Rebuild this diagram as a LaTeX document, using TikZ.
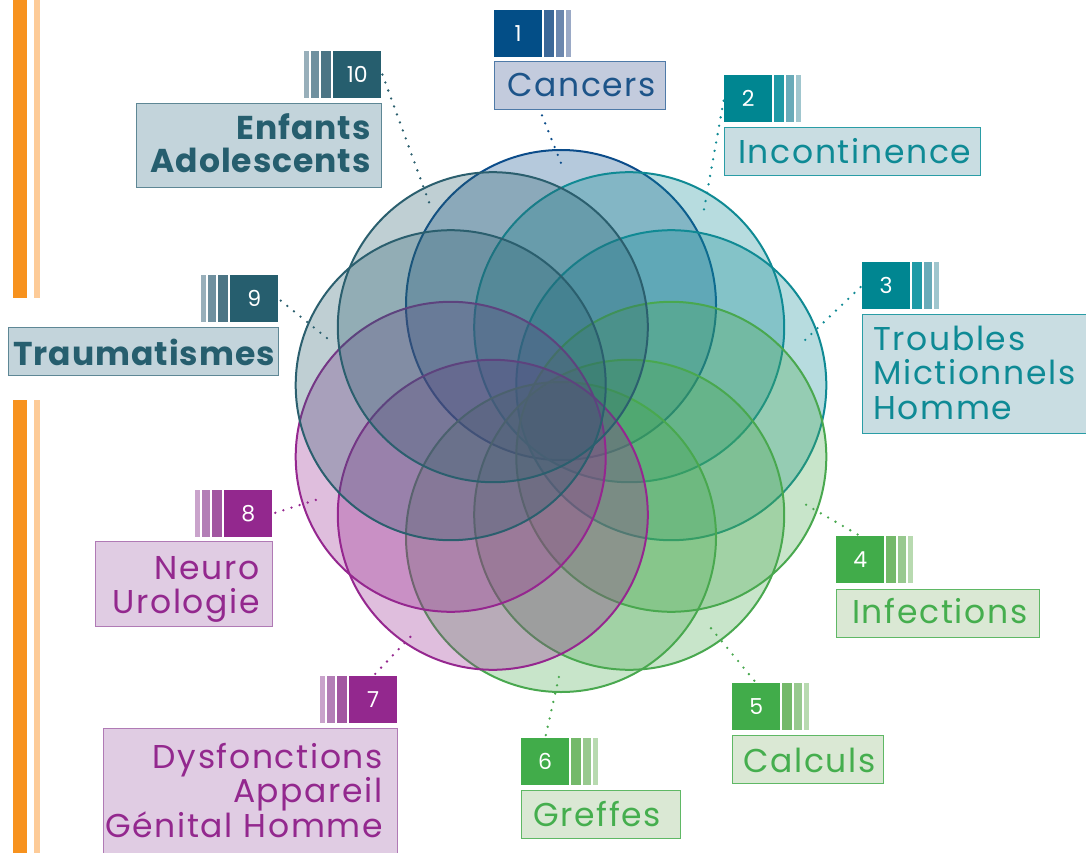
\documentclass[tikz,border=0pt]{standalone}
\usepackage{fontspec}
\setmainfont{Poppins}
\definecolor{orA}{HTML}{F7921E}
\definecolor{orB}{HTML}{FDCB98}
% group colours
\definecolor{blueD}{HTML}{034E87}
\definecolor{blueS}{HTML}{0B4C8A}
\definecolor{blueB1}{HTML}{3C6898}
\definecolor{blueB2}{HTML}{6C87AE}
\definecolor{blueB3}{HTML}{9AA9C6}
\definecolor{blueF}{HTML}{C3CBDD}
\definecolor{blueL}{HTML}{4F7AA8}
\definecolor{blueT}{HTML}{1D5489}
\definecolor{tealD}{HTML}{008691}
\definecolor{tealS}{HTML}{108A94}
\definecolor{tealB1}{HTML}{1F9AA6}
\definecolor{tealB2}{HTML}{6AABB9}
\definecolor{tealB3}{HTML}{A0C6CE}
\definecolor{tealF}{HTML}{C9DDE2}
\definecolor{tealL}{HTML}{2A9DA6}
\definecolor{tealT}{HTML}{0E8A95}
\definecolor{grnD}{HTML}{41AC4A}
\definecolor{grnS}{HTML}{49A84F}
\definecolor{grnB1}{HTML}{74B96A}
\definecolor{grnB2}{HTML}{98C98F}
\definecolor{grnB3}{HTML}{B8DAB0}
\definecolor{grnF}{HTML}{DAE8D4}
\definecolor{grnL}{HTML}{5FB865}
\definecolor{grnT}{HTML}{45AE4E}
\definecolor{purD}{HTML}{93288E}
\definecolor{purS}{HTML}{95278F}
\definecolor{purB1}{HTML}{A257A1}
\definecolor{purB2}{HTML}{B37EB6}
\definecolor{purB3}{HTML}{C9A3CB}
\definecolor{purF}{HTML}{E0CCE3}
\definecolor{purL}{HTML}{B07AB5}
\definecolor{purT}{HTML}{93288E}
\definecolor{slD}{HTML}{265E6E}
\definecolor{slS}{HTML}{2B5F6E}
\definecolor{slB1}{HTML}{4C7585}
\definecolor{slB2}{HTML}{6F909F}
\definecolor{slB3}{HTML}{98AFBA}
\definecolor{slF}{HTML}{C3D4DB}
\definecolor{slL}{HTML}{5E8795}
\definecolor{slT}{HTML}{265E6E}
\newcommand\barsright[4]{%
  \fill[#2] ([xshift=2pt]#1.north east) rectangle ([xshift=12pt]#1.south east);
  \fill[#3] ([xshift=14pt]#1.north east) rectangle ([xshift=22pt]#1.south east);
  \fill[#4] ([xshift=24pt]#1.north east) rectangle ([xshift=29pt]#1.south east);}
\newcommand\barsleft[4]{%
  \fill[#2] ([xshift=-12pt]#1.north west) rectangle ([xshift=-2pt]#1.south west);
  \fill[#3] ([xshift=-22pt]#1.north west) rectangle ([xshift=-14pt]#1.south west);
  \fill[#4] ([xshift=-29pt]#1.north west) rectangle ([xshift=-24pt]#1.south west);}
\begin{document}
\begin{tikzpicture}[x=1pt,y=-1pt,
  circ/.style={circle, minimum size=310pt, inner sep=0pt, draw=#1, fill=#1, fill opacity=0.3, line width=2pt},
  numbox/.style={fill=#1, minimum width=48pt, minimum height=47pt, inner sep=0pt, anchor=north west, text=white, font=\fontsize{22}{22}\selectfont},
  labbox/.style={draw=#1, line width=1.4pt, inner sep=0pt, anchor=north west},
  labtext/.style={inner sep=0pt, text=#1, font=\fontsize{33}{34.5}\selectfont\addfontfeature{LetterSpace=5}},
  boldtext/.style={inner sep=0pt, text=#1, font=\fontsize{33}{33}\selectfont\bfseries\addfontfeature{LetterSpace=3}},
  dotline/.style={draw=#1, dash pattern=on 0pt off 8.5pt, line cap=round, line width=2.6pt}
]
\useasboundingbox (0,0) rectangle (1086,853);
% orange side bars
\fill[orA] (13,0) rectangle (27,298);
\fill[orB] (34,0) rectangle (40,298);
\fill[orA] (13,400) rectangle (27,853);
\fill[orB] (34,400) rectangle (40,853);
% circles
\node[circ=blueS] (c1) at (561,305) {};
\node[circ=tealS] (c2) at (629.2,327.2) {};
\node[circ=tealS] (c3) at (671.3,385.2) {};
\node[circ=grnS] (c4) at (671.3,456.8) {};
\node[circ=grnS] (c5) at (629.2,514.8) {};
\node[circ=grnS] (c6) at (561,537) {};
\node[circ=purS] (c7) at (492.8,514.8) {};
\node[circ=purS] (c8) at (450.7,456.8) {};
\node[circ=slS] (c9) at (450.7,385.2) {};
\node[circ=slS] (c10) at (492.8,327.2) {};
% number boxes
\node[numbox=blueD] (n1) at (494,10) {1};
\node[numbox=tealD] (n2) at (724,75) {2};
\node[numbox=tealD] (n3) at (862,262) {3};
\node[numbox=grnD] (n4) at (836,536) {4};
\node[numbox=grnD] (n5) at (732,683) {5};
\node[numbox=grnD] (n6) at (521,738) {6};
\node[numbox=purD] (n7) at (349,676) {7};
\node[numbox=purD] (n8) at (224,490) {8};
\node[numbox=slD] (n9) at (230,275) {9};
\node[numbox=slD] (n10) at (333,51) {10};
\barsright{n1}{blueB1}{blueB2}{blueB3}
\barsright{n2}{tealB1}{tealB2}{tealB3}
\barsright{n3}{tealB1}{tealB2}{tealB3}
\barsright{n4}{grnB1}{grnB2}{grnB3}
\barsright{n5}{grnB1}{grnB2}{grnB3}
\barsright{n6}{grnB1}{grnB2}{grnB3}
\barsleft{n7}{purB1}{purB2}{purB3}
\barsleft{n8}{purB1}{purB2}{purB3}
\barsleft{n9}{slB1}{slB2}{slB3}
\barsleft{n10}{slB1}{slB2}{slB3}
% label boxes
\node[labbox=blueL, fill=blueF, minimum width=171pt, minimum height=48pt] (l1) at (494,61) {};
\node[labbox=tealL, fill=tealF, minimum width=256pt, minimum height=48pt] (l2) at (724,127) {};
\node[labbox=tealL, fill=tealF, minimum width=236pt, minimum height=119pt] (l3) at (862,314) {};
\node[labbox=grnL, fill=grnF, minimum width=203pt, minimum height=48pt] (l4) at (836,589) {};
\node[labbox=grnL, fill=grnF, minimum width=151pt, minimum height=48pt] (l5) at (732,735) {};
\node[labbox=grnL, fill=grnF, minimum width=159pt, minimum height=48pt] (l6) at (521,790) {};
\node[labbox=purL, fill=purF, minimum width=294pt, minimum height=140pt] (l7) at (103,728) {};
\node[labbox=purL, fill=purF, minimum width=177pt, minimum height=85pt] (l8) at (95,541) {};
\node[labbox=slL, fill=slF, minimum width=270pt, minimum height=48pt] (l9) at (8,327) {};
\node[labbox=slL, fill=slF, minimum width=245pt, minimum height=84pt] (l10) at (136,103) {};
% label texts
\node[labtext=blueT, anchor=base west] (t1) at (507,97) {Cancers};
\node[labtext=tealT, anchor=base west] (t2) at (738,164) {Incontinence};
\node[labtext=tealT, anchor=base west, text width=212pt, align=left] (t3) at (873,350) {Troubles\\Mictionnels\\Homme};
\node[labtext=grnT, anchor=base west] (t4) at (852,623) {Infections};
\node[labtext=grnT, anchor=base west] (t5) at (743,772) {Calculs};
\node[labtext=grnT, anchor=base west] (t6) at (533,826) {Greffes};
\node[labtext=purT, anchor=base east, text width=280pt, align=right] (t7) at (383,768) {Dysfonctions\\Appareil\\Génital Homme};
\node[labtext=purT, anchor=base east, text width=170pt, align=right] (t8) at (260,579) {Neuro\\Urologie};
\node[boldtext=slT, anchor=base west] (t9) at (13,365) {Traumatismes};
\node[boldtext=slT, anchor=base east, text width=230pt, align=right] (t10) at (371,140) {Enfants\\Adolescents};
% connectors
\coordinate (e1) at (563,168);
\coordinate (e2) at (703,215);
\coordinate (e3) at (803,342);
\coordinate (e4) at (803,503);
\coordinate (e5) at (710,627);
\coordinate (e6) at (560,672);
\coordinate (e7) at (415,632);
\coordinate (e8) at (322,498);
\coordinate (e9) at (333,343);
\coordinate (e10) at (430,205);
\draw[dotline=blueS] ([shift={(48,5)}]l1.south west) -- (e1);
\draw[dotline=tealS, shorten <=2pt] (n2.west) -- (e2);
\draw[dotline=tealS, shorten <=2pt] (n3.west) -- (e3);
\draw[dotline=grnS, shorten <=3pt] (n4.north) -- (e4);
\draw[dotline=grnS, shorten <=3pt] (n5.north) -- (e5);
\draw[dotline=grnS, shorten <=3pt] (n6.north) -- (e6);
\draw[dotline=purS, shorten <=3pt] (n7.north) -- (e7);
\draw[dotline=purS, shorten <=3pt] (n8.east) -- (e8);
\draw[dotline=slS, shorten <=3pt] (n9.east) -- (e9);
\draw[dotline=slS, shorten <=3pt] ([yshift=3pt]n10.east) -- (e10);
\end{tikzpicture}
\end{document}
